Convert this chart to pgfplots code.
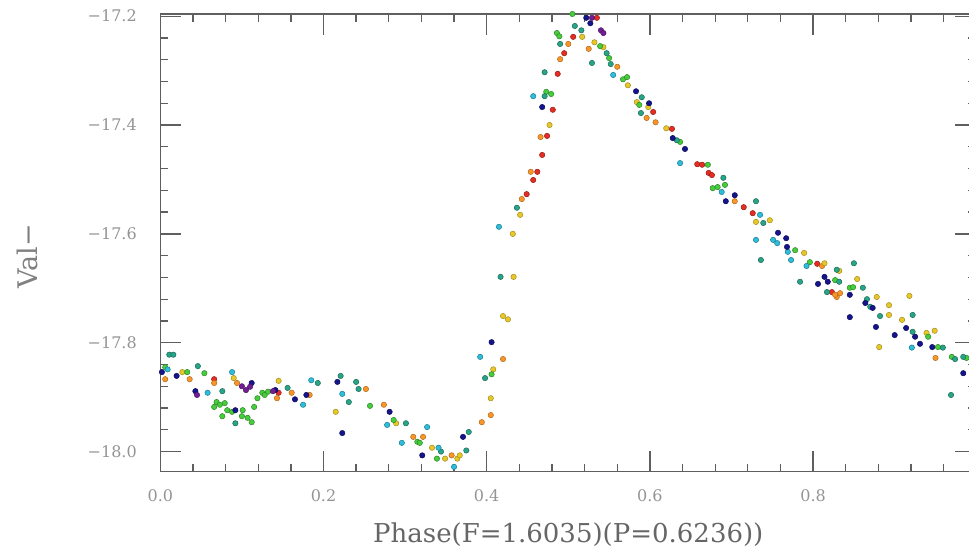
\documentclass[border=0pt]{standalone}
\usepackage{pgfplots}
\pgfplotsset{compat=1.18}
\usepackage{fontspec}
\setmainfont{DejaVu Serif}

\definecolor{cR}{RGB}{230,45,35}
\definecolor{cO}{RGB}{250,150,40}
\definecolor{cY}{RGB}{232,200,40}
\definecolor{cG}{RGB}{70,205,60}
\definecolor{cT}{RGB}{40,165,135}
\definecolor{cC}{RGB}{45,190,220}
\definecolor{cB}{RGB}{20,20,140}
\definecolor{cP}{RGB}{115,30,150}
\definecolor{axisgray}{RGB}{95,95,95}

\begin{document}
\begin{tikzpicture}
\begin{axis}[
    scale only axis,
    width=816pt, height=457.7pt,
    xmin=0, xmax=1,
    ymin=-18.037, ymax=-17.196,
    clip=false,
    axis line style={axisgray, line width=1.3pt},
    tick style={axisgray, line width=1.3pt},
    major tick length=21pt,
    minor tick length=8pt,
    tick align=inside,
    tick pos=both,
    xticklabel pos=lower, yticklabel pos=left,
    xtick={0,0.2,0.4,0.6,0.8},
    xticklabels={0.0,0.2,0.4,0.6,0.8},
    minor xtick={0.04,0.08,0.12,0.16,0.24,0.28,0.32,0.36,0.44,0.48,0.52,0.56,0.64,0.68,0.72,0.76,0.84,0.88,0.92,0.96},
    ytick={-18,-17.8,-17.6,-17.4,-17.2},
    yticklabels={−18.0,−17.8,−17.6,−17.4,−17.2},
    minor ytick={-17.96,-17.92,-17.88,-17.84,-17.76,-17.72,-17.68,-17.64,-17.56,-17.52,-17.48,-17.44,-17.36,-17.32,-17.28,-17.24},
    ticklabel style={font=\fontsize{16}{18}\selectfont, text=black!42},
    xticklabel shift=14pt,
    yticklabel shift=20pt,
    xlabel={Phase(F=1.6035)(P=0.6236))},
    xlabel style={at={(axis description cs:0.5,-0.155)}, anchor=base,
        font=\fontsize{26}{29}\selectfont, text=black!60},
    ylabel={Val−},
    ylabel style={at={(axis description cs:-0.163,0.47)}, anchor=center,
        font=\fontsize{27}{30}\selectfont, text=black!50},
    every axis plot/.append style={only marks, mark=*, mark size=2.7pt, line width=0.5pt},
  ]
  \coordinate (bl) at (rel axis cs:0,0);
  \coordinate (tr) at (rel axis cs:1,1);

  % red
  \addplot[mark options={fill=cR, draw=cR!65!black}] coordinates {
    (0.066,-17.867) (0.145,-17.892) (0.449,-17.527) (0.462,-17.486) (0.457,-17.501)
    (0.468,-17.455) (0.474,-17.420) (0.481,-17.372) (0.487,-17.306) (0.495,-17.268)
    (0.506,-17.238) (0.535,-17.203) (0.604,-17.376) (0.627,-17.407) (0.658,-17.472)
    (0.664,-17.473) (0.672,-17.488) (0.676,-17.492) (0.715,-17.551) (0.726,-17.562)
    (0.805,-17.655) (0.823,-17.707)
  };
  % orange
  \addplot[mark options={fill=cO, draw=cO!70!black}] coordinates {
    (0.006,-17.867) (0.036,-17.867) (0.066,-17.874) (0.094,-17.874) (0.143,-17.902)
    (0.161,-17.892) (0.183,-17.896) (0.252,-17.885) (0.274,-17.914) (0.310,-17.973)
    (0.322,-17.973) (0.357,-18.007) (0.394,-17.946) (0.405,-17.933) (0.420,-17.830)
    (0.443,-17.536) (0.454,-17.486) (0.466,-17.422) (0.490,-17.279) (0.500,-17.251)
    (0.525,-17.260) (0.560,-17.293) (0.607,-17.395) (0.596,-17.387) (0.704,-17.540)
    (0.811,-17.659) (0.829,-17.716) (0.827,-17.712) (0.833,-17.709) (0.950,-17.828)
  };
  % yellow
  \addplot[mark options={fill=cY, draw=cY!70!black}] coordinates {
    (0.027,-17.854) (0.090,-17.865) (0.145,-17.870) (0.215,-17.927) (0.289,-17.948)
    (0.333,-17.993) (0.349,-18.013) (0.364,-18.013) (0.367,-18.007) (0.405,-17.902)
    (0.408,-17.849) (0.420,-17.751) (0.426,-17.757) (0.433,-17.679) (0.432,-17.600)
    (0.441,-17.565) (0.477,-17.400) (0.517,-17.238) (0.532,-17.248) (0.543,-17.257)
    (0.573,-17.327) (0.584,-17.358) (0.598,-17.367) (0.620,-17.406) (0.730,-17.578)
    (0.747,-17.575) (0.789,-17.635) (0.814,-17.654) (0.832,-17.668) (0.854,-17.683)
    (0.878,-17.716) (0.893,-17.731) (0.918,-17.714) (0.893,-17.749) (0.909,-17.758)
    (0.939,-17.782) (0.949,-17.778) (0.881,-17.808)
  };
  % green
  \addplot[mark options={fill=cG, draw=cG!65!black}] coordinates {
    (0.006,-17.845) (0.033,-17.854) (0.054,-17.856) (0.069,-17.909) (0.073,-17.914)
    (0.079,-17.911) (0.066,-17.918) (0.082,-17.924) (0.076,-17.935) (0.088,-17.927)
    (0.101,-17.924) (0.100,-17.935) (0.107,-17.938) (0.112,-17.946) (0.115,-17.918)
    (0.119,-17.902) (0.125,-17.892) (0.128,-17.896) (0.132,-17.890) (0.257,-17.916)
    (0.286,-17.942) (0.315,-17.982) (0.318,-17.984) (0.339,-18.013) (0.406,-17.858)
    (0.473,-17.339) (0.479,-17.343) (0.486,-17.231) (0.489,-17.237) (0.505,-17.196)
    (0.539,-17.255) (0.550,-17.277) (0.567,-17.316) (0.572,-17.312) (0.587,-17.363)
    (0.637,-17.431) (0.671,-17.473) (0.677,-17.516) (0.683,-17.514) (0.692,-17.510)
    (0.778,-17.630) (0.796,-17.652) (0.827,-17.685) (0.845,-17.699) (0.849,-17.698)
    (0.941,-17.789) (0.953,-17.808) (0.970,-17.826) (0.988,-17.828)
  };
  % teal
  \addplot[mark options={fill=cT, draw=cT!65!black}] coordinates {
    (0.011,-17.822) (0.016,-17.822) (0.046,-17.843) (0.076,-17.889) (0.092,-17.948)
    (0.156,-17.883) (0.193,-17.874) (0.221,-17.861) (0.231,-17.909) (0.240,-17.872)
    (0.243,-17.885) (0.301,-17.948) (0.344,-18.000) (0.375,-17.998) (0.378,-17.964)
    (0.398,-17.865) (0.417,-17.679) (0.437,-17.552) (0.471,-17.347) (0.471,-17.303)
    (0.490,-17.251) (0.508,-17.218) (0.516,-17.226) (0.529,-17.286) (0.547,-17.268)
    (0.552,-17.288) (0.590,-17.349) (0.589,-17.378) (0.633,-17.428) (0.690,-17.497)
    (0.730,-17.540) (0.739,-17.580) (0.736,-17.648) (0.784,-17.688) (0.829,-17.666)
    (0.817,-17.707) (0.850,-17.654) (0.832,-17.688) (0.861,-17.699) (0.866,-17.720)
    (0.870,-17.734) (0.882,-17.751) (0.922,-17.749) (0.922,-17.780) (0.959,-17.809)
    (0.974,-17.830) (0.984,-17.826) (0.969,-17.896)
  };
  % cyan
  \addplot[mark options={fill=cC, draw=cC!65!black}] coordinates {
    (0.009,-17.849) (0.058,-17.892) (0.088,-17.854) (0.175,-17.914) (0.185,-17.869)
    (0.223,-17.894) (0.278,-17.951) (0.296,-17.984) (0.327,-17.955) (0.341,-17.993)
    (0.360,-18.028) (0.392,-17.826) (0.415,-17.587) (0.457,-17.347) (0.555,-17.308)
    (0.637,-17.470) (0.688,-17.523) (0.735,-17.565) (0.730,-17.611) (0.751,-17.611)
    (0.756,-17.617) (0.769,-17.633) (0.773,-17.648) (0.792,-17.659) (0.921,-17.809)
  };
  % blue
  \addplot[mark options={fill=cB, draw=cB!65!black}] coordinates {
    (0.002,-17.854) (0.020,-17.861) (0.043,-17.889) (0.112,-17.874) (0.092,-17.924)
    (0.141,-17.887) (0.165,-17.904) (0.179,-17.896) (0.217,-17.872) (0.223,-17.966)
    (0.281,-17.927) (0.321,-18.007) (0.371,-17.973) (0.406,-17.799) (0.468,-17.367)
    (0.522,-17.203) (0.527,-17.213) (0.583,-17.338) (0.599,-17.360) (0.628,-17.424)
    (0.643,-17.444) (0.704,-17.529) (0.693,-17.540) (0.757,-17.598) (0.767,-17.608)
    (0.768,-17.624) (0.814,-17.679) (0.806,-17.692) (0.818,-17.688) (0.845,-17.712)
    (0.864,-17.727) (0.873,-17.736) (0.845,-17.753) (0.877,-17.771) (0.914,-17.773)
    (0.900,-17.786) (0.925,-17.789) (0.931,-17.802) (0.946,-17.808) (0.984,-17.856)
  };
  % purple
  \addplot[mark options={fill=cP, draw=cP!65!black}] coordinates {
    (0.045,-17.896) (0.100,-17.880) (0.105,-17.887) (0.110,-17.881) (0.138,-17.889)
    (0.529,-17.203) (0.540,-17.226) (0.543,-17.231)
  };
\end{axis}
\pgfresetboundingbox
\useasboundingbox ([shift={(-160.3pt,-80.3pt)}]bl) rectangle ([shift={(-7.3pt,14pt)}]tr);
\end{tikzpicture}
\end{document}
